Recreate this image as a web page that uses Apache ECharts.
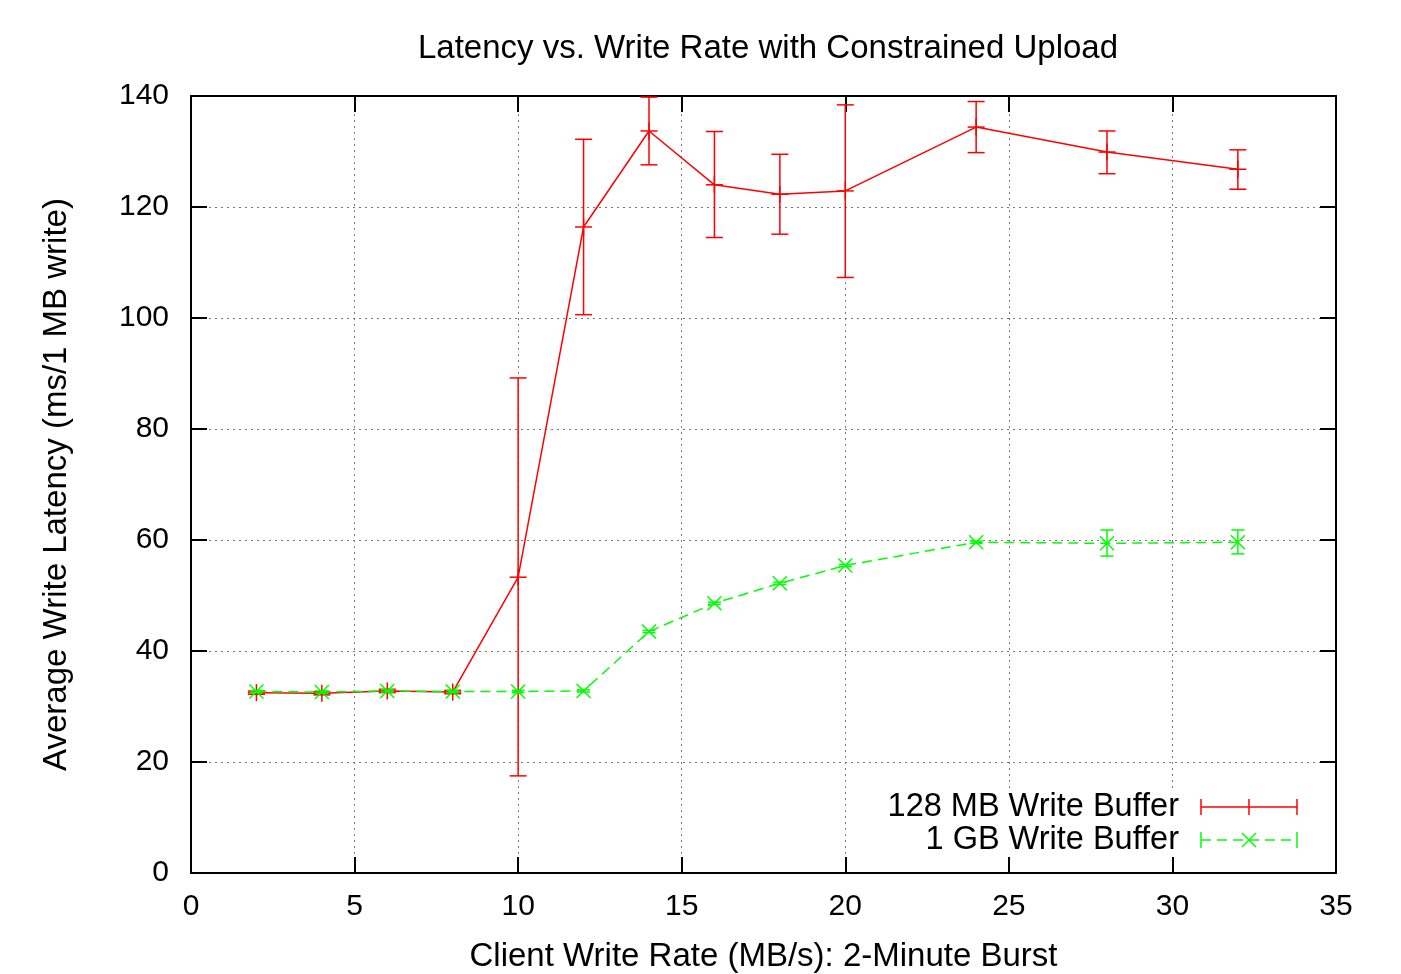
<!DOCTYPE html>
<html>
<head>
<meta charset="utf-8">
<script src="https://cdn.jsdelivr.net/npm/echarts@6/dist/echarts.min.js"></script>
<style>
  html, body { margin: 0; padding: 0; background: #fff; }
  #chart { width: 1401px; height: 974px; }
</style>
</head>
<body>
<div id="chart"></div>
<script>
// client write rate (MB/s)
const rates = [2, 4, 6, 8, 10, 12, 14, 16, 18, 20, 24, 28, 32]

// 128 MB write buffer: mean latency and error range
const smallMean = [32.5, 32.4, 32.8, 32.6, 53.3, 116.4, 133.7, 124.0, 122.3, 122.9, 134.4, 129.9, 126.8]
const smallLow = [32.2, 32.1, 32.5, 32.3, 17.5, 100.6, 127.6, 114.5, 115.1, 107.3, 129.8, 126.0, 123.2]
const smallHigh = [32.8, 32.7, 33.1, 32.9, 89.2, 132.2, 139.8, 133.6, 129.5, 138.4, 139.0, 133.7, 130.3]

// 1 GB write buffer
const largeMean = [32.7, 32.6, 32.8, 32.7, 32.7, 32.8, 43.5, 48.6, 52.2, 55.4, 59.6, 59.4, 59.6]
const largeLow = [32.5, 32.4, 32.6, 32.5, 32.5, 32.6, 43.3, 48.4, 52.0, 55.2, 59.4, 57.1, 57.5]
const largeHigh = [32.9, 32.8, 33.0, 32.9, 32.9, 33.0, 43.7, 48.8, 52.4, 55.6, 59.8, 61.8, 61.8]

const seriesNames = ['128 MB Write Buffer', '1 GB Write Buffer']

const RED = '#ff0000'
const GREEN = '#00ff00'
const FONT = '"Liberation Sans", Arial, Helvetica, sans-serif'

const chart = echarts.init(document.getElementById('chart'))

const toRows = (mean, low, high) => rates.map((x, i) => [x, low[i], high[i], mean[i]])

// error bar + point glyph ('plus' or 'cross')
const errorBar = (color, capW, glyph, glyphSize) => (params, api) => {
  const x = api.value(0)
  const lo = api.coord([x, api.value(1)])
  const hi = api.coord([x, api.value(2)])
  const m = api.coord([x, api.value(3)])
  const style = { stroke: color, lineWidth: 1.5 }
  const h = capW / 2
  const g = glyphSize / 2
  const kids = [
    { type: 'line', shape: { x1: lo[0], y1: lo[1], x2: hi[0], y2: hi[1] }, style },
    { type: 'line', shape: { x1: lo[0] - h, y1: lo[1], x2: lo[0] + h, y2: lo[1] }, style },
    { type: 'line', shape: { x1: hi[0] - h, y1: hi[1], x2: hi[0] + h, y2: hi[1] }, style },
  ]
  if (glyph === 'plus') {
    kids.push({ type: 'line', shape: { x1: m[0] - g, y1: m[1], x2: m[0] + g, y2: m[1] }, style })
    kids.push({ type: 'line', shape: { x1: m[0], y1: m[1] - g, x2: m[0], y2: m[1] + g }, style })
  } else {
    kids.push({ type: 'line', shape: { x1: m[0] - g, y1: m[1] - g, x2: m[0] + g, y2: m[1] + g }, style })
    kids.push({ type: 'line', shape: { x1: m[0] - g, y1: m[1] + g, x2: m[0] + g, y2: m[1] - g }, style })
  }
  return { type: 'group', children: kids }
}

const gridLine = { show: true, lineStyle: { color: '#777', width: 1, type: [2, 4] } }
const border = { show: true, onZero: false, lineStyle: { color: '#000', width: 2 } }
const tick = { show: true, inside: true, length: 16, lineStyle: { color: '#000', width: 2 } }
const tickLabel = { color: '#000', fontSize: 30, fontFamily: FONT }
const nameStyle = { color: '#000', fontSize: 33, fontFamily: FONT }

// legend drawn as gnuplot key: right-aligned text followed by a sample
const legendX1 = 1201
const legendX2 = 1297
const legendMid = (legendX1 + legendX2) / 2
const legendRows = [807, 840]
const ln = (x1, y1, x2, y2, color, dash) => ({
  type: 'line', z: 10,
  shape: { x1, y1, x2, y2 },
  style: { stroke: color, lineWidth: 1.5, lineDash: dash || null },
})
const legendGraphics = [
  { type: 'rect', z: 1, shape: { x: 880, y: 789, width: 440, height: 67 }, style: { fill: '#fff' } },
]
seriesNames.forEach((name, i) => {
  const y = legendRows[i]
  const color = i === 0 ? RED : GREEN
  legendGraphics.push({
    type: 'text', z: 10, x: 1179, y,
    style: { text: name, fill: '#000', font: '32.5px ' + FONT, align: 'right', verticalAlign: 'middle' },
  })
  legendGraphics.push(ln(legendX1, y, legendX2, y, color, i === 0 ? null : [10, 6]))
  legendGraphics.push(ln(legendX1, y - 8, legendX1, y + 8, color))
  legendGraphics.push(ln(legendX2, y - 8, legendX2, y + 8, color))
  if (i === 0) {
    legendGraphics.push(ln(legendMid, y - 8, legendMid, y + 8, color))
  } else {
    legendGraphics.push(ln(legendMid - 7, y - 7, legendMid + 7, y + 7, color))
    legendGraphics.push(ln(legendMid - 7, y + 7, legendMid + 7, y - 7, color))
  }
})

const option = {
  backgroundColor: '#fff',
  animation: false,
  title: {
    text: 'Latency vs. Write Rate with Constrained Upload',
    left: 763, top: 27, textAlign: 'center',
    textStyle: Object.assign({ fontWeight: 'normal' }, nameStyle),
  },
  grid: { left: 191, right: 65, top: 96, bottom: 101, outerBoundsMode: 'none' },
  xAxis: [
    {
      type: 'value', min: 0, max: 35, interval: 5, position: 'bottom',
      name: 'Client Write Rate (MB/s): 2-Minute Burst',
      nameLocation: 'middle', nameGap: 67,
      nameTextStyle: nameStyle,
      axisLine: border, axisTick: tick, splitLine: gridLine,
      axisLabel: Object.assign({ margin: 19 }, tickLabel),
    },
    {
      type: 'value', min: 0, max: 35, interval: 5, position: 'top',
      axisLine: border, axisTick: tick, splitLine: { show: false },
      axisLabel: { show: false },
    },
  ],
  yAxis: [
    {
      type: 'value', min: 0, max: 140, interval: 20, position: 'left',
      name: 'Average Write Latency (ms/1 MB write)',
      nameLocation: 'middle', nameGap: 118,
      nameTextStyle: nameStyle,
      axisLine: border, axisTick: tick, splitLine: gridLine,
      axisLabel: Object.assign({ margin: 22 }, tickLabel),
    },
    {
      type: 'value', min: 0, max: 140, interval: 20, position: 'right',
      axisLine: border, axisTick: tick, splitLine: { show: false },
      axisLabel: { show: false },
    },
  ],
  graphic: legendGraphics,
  series: [
    {
      name: seriesNames[0], type: 'line', z: 3,
      data: rates.map((x, i) => [x, smallMean[i]]),
      symbol: 'none',
      lineStyle: { color: RED, width: 1.5 },
    },
    {
      name: seriesNames[0] + ' err', type: 'custom', z: 3,
      data: toRows(smallMean, smallLow, smallHigh),
      renderItem: errorBar(RED, 17, 'plus', 17),
    },
    {
      name: seriesNames[1], type: 'line', z: 4,
      data: rates.map((x, i) => [x, largeMean[i]]),
      symbol: 'none',
      lineStyle: { color: GREEN, width: 1.5, type: [10, 6] },
    },
    {
      name: seriesNames[1] + ' err', type: 'custom', z: 4,
      data: toRows(largeMean, largeLow, largeHigh),
      renderItem: errorBar(GREEN, 13, 'cross', 14),
    },
  ],
}

chart.setOption(option)
</script>
</body>
</html>
